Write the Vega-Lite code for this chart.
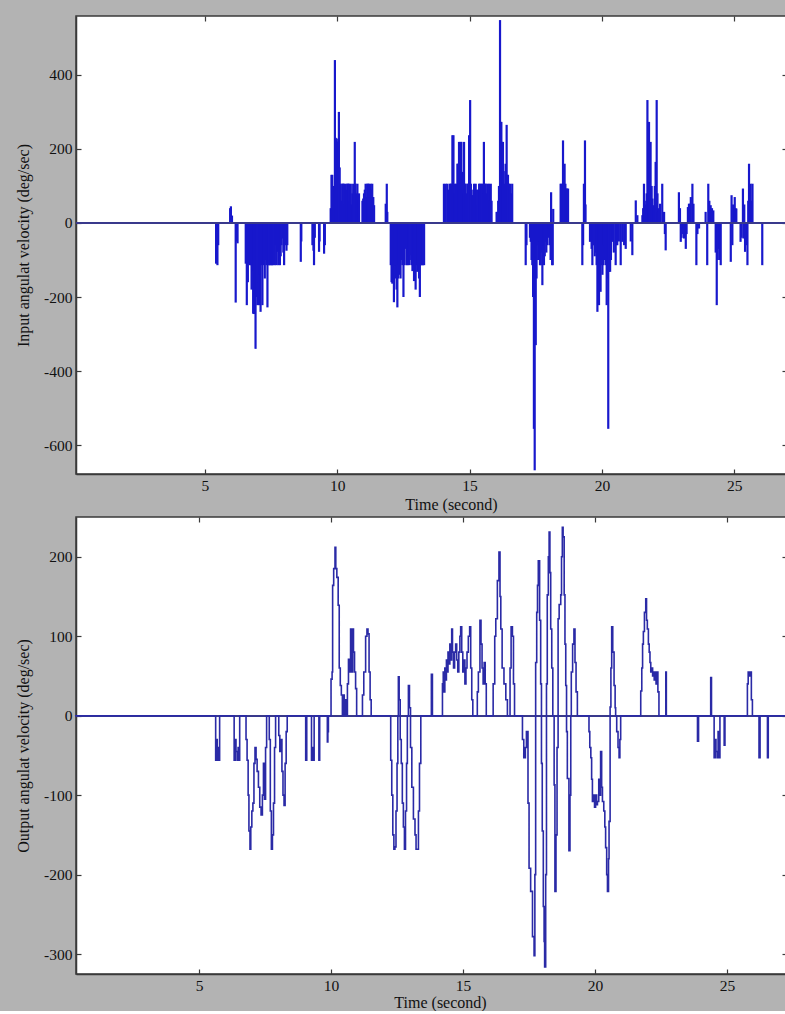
{
  "$schema": "https://vega.github.io/schema/vega-lite/v6.json",
  "background": "#b3b3b3",
  "padding": {"left": 14, "top": 14, "right": 0, "bottom": 0},
  "spacing": 2,
  "config": {
    "font": "Liberation Serif",
    "view": {"stroke": "#3a3a3a", "strokeWidth": 1.5, "fill": "white"},
    "axis": {
      "grid": false,
      "domainColor": "#3a3a3a",
      "domainWidth": 1.5,
      "tickColor": "#3a3a3a",
      "tickSize": -5,
      "tickWidth": 1.2,
      "labelFont": "Liberation Serif",
      "labelFontSize": 15.5,
      "labelColor": "#111111",
      "labelPadding": 9,
      "labelExpr": "datum.value < 0 ? '-' + abs(datum.value) : '' + datum.value",
      "titleFont": "Liberation Serif",
      "titleFontSize": 16,
      "titleFontWeight": "normal",
      "titleColor": "#111111",
      "titlePadding": 12
    }
  },
  "datasets": {
    "input": [
      {"t":5.42,"v":-110},{"t":5.47,"v":-114},{"t":5.50,"v":-60},
      {"t":5.95,"v":40},{"t":5.98,"v":45},{"t":6.02,"v":20},
      {"t":6.16,"v":-215},{"t":6.20,"v":-50},{"t":6.23,"v":-55},
      {"t":6.54,"v":-110},{"t":6.58,"v":-222},{"t":6.62,"v":-160},{"t":6.66,"v":-110},{"t":6.70,"v":-114},{"t":6.73,"v":-114},{"t":6.76,"v":-180},{"t":6.79,"v":-130},{"t":6.82,"v":-245},{"t":6.85,"v":-246},{"t":6.88,"v":-200},{"t":6.91,"v":-340},{"t":6.94,"v":-200},{"t":6.98,"v":-222},{"t":7.01,"v":-160},{"t":7.04,"v":-222},{"t":7.07,"v":-140},{"t":7.10,"v":-240},{"t":7.13,"v":-114},{"t":7.17,"v":-222},{"t":7.20,"v":-110},{"t":7.23,"v":-114},{"t":7.26,"v":-150},{"t":7.29,"v":-100},{"t":7.32,"v":-114},{"t":7.36,"v":-228},{"t":7.39,"v":-114},{"t":7.42,"v":-114},{"t":7.46,"v":-114},{"t":7.48,"v":-114},{"t":7.52,"v":-114},{"t":7.54,"v":-114},{"t":7.58,"v":-114},{"t":7.61,"v":-110},{"t":7.64,"v":-114},{"t":7.67,"v":-60},{"t":7.70,"v":-114},{"t":7.73,"v":-78},{"t":7.77,"v":-114},{"t":7.80,"v":-80},{"t":7.83,"v":-114},{"t":7.86,"v":-90},{"t":7.89,"v":-60},{"t":7.92,"v":-42},{"t":7.96,"v":-80},{"t":7.99,"v":-114},{"t":8.02,"v":-60},{"t":8.05,"v":-55},{"t":8.08,"v":-75},{"t":8.11,"v":-60},
      {"t":8.62,"v":-105},{"t":8.64,"v":-50},
      {"t":9.06,"v":-60},{"t":9.10,"v":-75},{"t":9.12,"v":-114},{"t":9.15,"v":-40},
      {"t":9.31,"v":-78},{"t":9.33,"v":-50},
      {"t":9.50,"v":-83},{"t":9.53,"v":-60},
      {"t":9.75,"v":40},{"t":9.78,"v":130},{"t":9.81,"v":130},{"t":9.85,"v":60},{"t":9.88,"v":100},{"t":9.91,"v":440},{"t":9.94,"v":230},{"t":9.98,"v":228},{"t":10.01,"v":220},{"t":10.04,"v":110},{"t":10.06,"v":300},{"t":10.09,"v":150},{"t":10.13,"v":106},{"t":10.16,"v":60},{"t":10.19,"v":106},{"t":10.22,"v":106},{"t":10.25,"v":106},{"t":10.28,"v":50},{"t":10.32,"v":106},{"t":10.35,"v":90},{"t":10.38,"v":106},{"t":10.41,"v":106},{"t":10.44,"v":106},{"t":10.48,"v":60},{"t":10.51,"v":106},{"t":10.54,"v":50},{"t":10.57,"v":80},{"t":10.60,"v":106},{"t":10.63,"v":90},{"t":10.66,"v":219},{"t":10.69,"v":106},{"t":10.72,"v":80},{"t":10.76,"v":106},{"t":10.79,"v":60},{"t":10.82,"v":80},
      {"t":10.95,"v":60},{"t":10.98,"v":66},{"t":11.01,"v":80},{"t":11.04,"v":90},{"t":11.07,"v":106},{"t":11.10,"v":70},{"t":11.13,"v":106},{"t":11.16,"v":106},{"t":11.20,"v":106},{"t":11.23,"v":70},{"t":11.26,"v":106},{"t":11.29,"v":90},{"t":11.32,"v":106},{"t":11.36,"v":70},{"t":11.39,"v":48},
      {"t":11.83,"v":52},{"t":11.87,"v":106},{"t":11.89,"v":30},
      {"t":12.02,"v":-114},{"t":12.05,"v":-160},{"t":12.08,"v":-164},{"t":12.11,"v":-120},{"t":12.14,"v":-214},{"t":12.18,"v":-150},{"t":12.21,"v":-114},{"t":12.24,"v":-180},{"t":12.27,"v":-228},{"t":12.30,"v":-150},{"t":12.33,"v":-114},{"t":12.36,"v":-140},{"t":12.39,"v":-150},{"t":12.42,"v":-100},{"t":12.46,"v":-114},{"t":12.50,"v":-200},{"t":12.54,"v":-114},{"t":12.58,"v":-70},{"t":12.62,"v":-114},{"t":12.65,"v":-114},{"t":12.68,"v":-90},{"t":12.71,"v":-114},{"t":12.74,"v":-100},{"t":12.77,"v":-87},{"t":12.80,"v":-114},{"t":12.84,"v":-130},{"t":12.87,"v":-114},{"t":12.90,"v":-157},{"t":12.93,"v":-114},{"t":12.96,"v":-180},{"t":12.99,"v":-114},{"t":13.02,"v":-132},{"t":13.05,"v":-114},{"t":13.09,"v":-150},{"t":13.12,"v":-200},{"t":13.15,"v":-114},{"t":13.18,"v":-114},{"t":13.21,"v":-114},{"t":13.24,"v":-114},{"t":13.28,"v":-114},
      {"t":14.03,"v":106},{"t":14.10,"v":106},{"t":14.16,"v":106},{"t":14.20,"v":90},{"t":14.25,"v":106},{"t":14.29,"v":106},{"t":14.32,"v":106},{"t":14.35,"v":237},{"t":14.39,"v":237},{"t":14.42,"v":80},{"t":14.45,"v":106},{"t":14.47,"v":80},{"t":14.50,"v":106},{"t":14.54,"v":160},{"t":14.56,"v":160},{"t":14.58,"v":110},{"t":14.60,"v":219},{"t":14.63,"v":106},{"t":14.66,"v":219},{"t":14.69,"v":219},{"t":14.71,"v":106},{"t":14.73,"v":138},{"t":14.76,"v":80},{"t":14.79,"v":219},{"t":14.82,"v":106},{"t":14.85,"v":106},{"t":14.88,"v":80},{"t":14.92,"v":106},{"t":14.95,"v":106},{"t":14.98,"v":237},{"t":15.02,"v":332},{"t":15.05,"v":106},{"t":15.08,"v":75},{"t":15.10,"v":75},{"t":15.14,"v":90},{"t":15.17,"v":106},{"t":15.20,"v":80},{"t":15.23,"v":106},{"t":15.26,"v":90},{"t":15.29,"v":48},{"t":15.32,"v":90},{"t":15.36,"v":106},{"t":15.39,"v":106},{"t":15.42,"v":90},{"t":15.45,"v":106},{"t":15.48,"v":106},{"t":15.51,"v":80},{"t":15.54,"v":219},{"t":15.58,"v":106},{"t":15.61,"v":106},{"t":15.64,"v":80},{"t":15.67,"v":106},{"t":15.70,"v":90},{"t":15.73,"v":106},{"t":15.76,"v":60},{"t":15.80,"v":106},{"t":15.83,"v":60},
      {"t":16.02,"v":30},{"t":16.05,"v":30},{"t":16.08,"v":60},{"t":16.11,"v":100},{"t":16.15,"v":548},{"t":16.18,"v":273},{"t":16.20,"v":273},{"t":16.23,"v":219},{"t":16.26,"v":219},{"t":16.29,"v":140},{"t":16.33,"v":106},{"t":16.36,"v":160},{"t":16.40,"v":265},{"t":16.43,"v":130},{"t":16.45,"v":130},{"t":16.48,"v":106},{"t":16.53,"v":106},{"t":16.57,"v":80},{"t":16.61,"v":106},
      {"t":17.12,"v":-114},{"t":17.15,"v":-60},{"t":17.28,"v":-40},{"t":17.31,"v":-51},{"t":17.34,"v":-100},{"t":17.37,"v":-114},{"t":17.40,"v":-200},{"t":17.43,"v":-556},{"t":17.46,"v":-668},{"t":17.50,"v":-330},{"t":17.53,"v":-150},{"t":17.56,"v":-60},{"t":17.59,"v":-100},{"t":17.62,"v":-50},{"t":17.66,"v":-114},{"t":17.69,"v":-114},{"t":17.72,"v":-80},{"t":17.75,"v":-168},{"t":17.78,"v":-60},{"t":17.81,"v":-114},{"t":17.84,"v":-90},{"t":17.87,"v":-51},{"t":17.90,"v":-80},{"t":17.94,"v":-60},{"t":17.97,"v":-40},{"t":18.00,"v":-15},{"t":18.03,"v":-60},{"t":18.06,"v":-100},{"t":18.08,"v":83},{"t":18.12,"v":-114},{"t":18.14,"v":-114},{"t":18.16,"v":38},
      {"t":18.44,"v":106},{"t":18.47,"v":106},{"t":18.50,"v":80},{"t":18.53,"v":223},{"t":18.56,"v":140},{"t":18.59,"v":160},{"t":18.62,"v":106},{"t":18.65,"v":93},{"t":18.67,"v":93},{"t":18.70,"v":60},{"t":18.72,"v":93},
      {"t":19.26,"v":-114},{"t":19.29,"v":-60},{"t":19.32,"v":106},{"t":19.36,"v":223},{"t":19.38,"v":50},
      {"t":19.55,"v":-51},{"t":19.58,"v":-40},{"t":19.61,"v":-70},{"t":19.64,"v":-114},{"t":19.67,"v":-60},{"t":19.70,"v":-60},{"t":19.73,"v":-90},{"t":19.76,"v":-80},{"t":19.80,"v":-114},{"t":19.83,"v":-240},{"t":19.86,"v":-200},{"t":19.89,"v":-222},{"t":19.92,"v":-160},{"t":19.95,"v":-186},{"t":19.98,"v":-114},{"t":20.02,"v":-140},{"t":20.05,"v":-114},{"t":20.08,"v":-60},{"t":20.11,"v":-100},{"t":20.14,"v":-114},{"t":20.18,"v":-222},{"t":20.21,"v":-150},{"t":20.24,"v":-556},{"t":20.27,"v":-132},{"t":20.31,"v":-132},{"t":20.34,"v":-100},{"t":20.39,"v":-51},{"t":20.45,"v":-80},{"t":20.52,"v":-114},{"t":20.55,"v":-60},{"t":20.58,"v":-60},{"t":20.64,"v":-50},{"t":20.71,"v":-114},{"t":20.77,"v":-51},{"t":20.84,"v":-60},{"t":20.90,"v":-70},{"t":21.09,"v":-50},{"t":21.15,"v":-87},
      {"t":21.28,"v":61},{"t":21.34,"v":21},{"t":21.53,"v":21},{"t":21.56,"v":40},{"t":21.59,"v":106},{"t":21.62,"v":60},{"t":21.65,"v":50},{"t":21.69,"v":80},{"t":21.72,"v":332},{"t":21.75,"v":200},{"t":21.78,"v":273},{"t":21.81,"v":150},{"t":21.84,"v":219},{"t":21.88,"v":100},{"t":21.91,"v":66},{"t":21.94,"v":40},{"t":21.97,"v":48},{"t":22.00,"v":100},{"t":22.03,"v":165},{"t":22.07,"v":332},{"t":22.10,"v":80},{"t":22.12,"v":30},{"t":22.16,"v":40},{"t":22.20,"v":52},{"t":22.28,"v":106},{"t":22.35,"v":30},
      {"t":22.38,"v":-30},{"t":22.41,"v":-74},
      {"t":22.91,"v":83},{"t":22.95,"v":40},
      {"t":22.98,"v":-51},{"t":23.01,"v":-40},{"t":23.04,"v":-15},{"t":23.07,"v":-30},{"t":23.10,"v":-42},{"t":23.17,"v":-70},{"t":23.20,"v":-30},
      {"t":23.25,"v":43},{"t":23.29,"v":52},{"t":23.32,"v":52},{"t":23.36,"v":70},{"t":23.42,"v":106},{"t":23.46,"v":52},
      {"t":23.57,"v":-114},{"t":23.61,"v":-30},{"t":23.67,"v":-15},
      {"t":23.92,"v":30},{"t":23.98,"v":-114},{"t":24.02,"v":106},{"t":24.06,"v":60},{"t":24.11,"v":48},{"t":24.16,"v":40},{"t":24.21,"v":34},
      {"t":24.30,"v":-80},{"t":24.34,"v":-222},{"t":24.38,"v":-100},{"t":24.43,"v":-70},{"t":24.46,"v":-100},{"t":24.49,"v":-114},
      {"t":24.87,"v":-105},{"t":24.90,"v":75},{"t":24.93,"v":-60},{"t":24.96,"v":50},{"t":25.02,"v":70},{"t":25.05,"v":40},{"t":25.08,"v":39},
      {"t":25.24,"v":-51},{"t":25.28,"v":-40},{"t":25.33,"v":93},{"t":25.35,"v":-42},{"t":25.38,"v":50},{"t":25.41,"v":-78},{"t":25.45,"v":-60},{"t":25.50,"v":-114},{"t":25.53,"v":60},{"t":25.56,"v":160},{"t":25.59,"v":80},{"t":25.62,"v":106},{"t":25.66,"v":60},{"t":25.69,"v":106},
      {"t":26.06,"v":-114}
    ],
    "output": [
      {"t":0.3,"v":0},{"t":5.60,"v":0},{"t":5.63,"v":-56},{"t":5.66,"v":-30},{"t":5.69,"v":-56},{"t":5.72,"v":-40},{"t":5.75,"v":-56},{"t":5.78,"v":0},
      {"t":6.30,"v":0},{"t":6.33,"v":-56},{"t":6.37,"v":-30},{"t":6.40,"v":-45},{"t":6.44,"v":-56},{"t":6.48,"v":-40},{"t":6.51,"v":-56},{"t":6.54,"v":0},
      {"t":6.75,"v":0},{"t":6.78,"v":-30},{"t":6.82,"v":-56},{"t":6.86,"v":-100},{"t":6.89,"v":-145},{"t":6.93,"v":-168},{"t":6.96,"v":-140},{"t":7.00,"v":-120},{"t":7.04,"v":-110},{"t":7.08,"v":-60},{"t":7.12,"v":-40},{"t":7.16,"v":-55},{"t":7.20,"v":-70},{"t":7.25,"v":-90},{"t":7.30,"v":-115},{"t":7.35,"v":-125},{"t":7.40,"v":-100},{"t":7.44,"v":-60},{"t":7.48,"v":-105},{"t":7.52,"v":-40},{"t":7.56,"v":0},
      {"t":7.62,"v":0},{"t":7.66,"v":-30},{"t":7.70,"v":-120},{"t":7.74,"v":-168},{"t":7.78,"v":-150},{"t":7.82,"v":-110},{"t":7.86,"v":-40},{"t":7.90,"v":0},
      {"t":7.98,"v":0},{"t":8.02,"v":-25},{"t":8.06,"v":-45},{"t":8.10,"v":-30},{"t":8.14,"v":-70},{"t":8.18,"v":-100},{"t":8.22,"v":-113},{"t":8.26,"v":-60},{"t":8.30,"v":-20},{"t":8.34,"v":0},
      {"t":9.02,"v":0},{"t":9.04,"v":-56},{"t":9.08,"v":0},{"t":9.24,"v":0},{"t":9.26,"v":-56},{"t":9.30,"v":-40},{"t":9.33,"v":-56},{"t":9.36,"v":0},{"t":9.52,"v":0},{"t":9.54,"v":-56},{"t":9.57,"v":0},{"t":9.84,"v":0},{"t":9.86,"v":-33},{"t":9.88,"v":-20},{"t":9.90,"v":0},
      {"t":9.98,"v":0},{"t":10.00,"v":46},{"t":10.04,"v":55},{"t":10.06,"v":164},{"t":10.10,"v":185},{"t":10.15,"v":212},{"t":10.18,"v":185},{"t":10.22,"v":174},{"t":10.27,"v":139},{"t":10.31,"v":60},{"t":10.35,"v":38},{"t":10.39,"v":26},{"t":10.43,"v":0},{"t":10.47,"v":26},{"t":10.50,"v":0},{"t":10.54,"v":20},{"t":10.58,"v":0},{"t":10.62,"v":40},{"t":10.66,"v":71},{"t":10.70,"v":55},{"t":10.74,"v":109},{"t":10.78,"v":55},{"t":10.82,"v":109},{"t":10.85,"v":80},{"t":10.89,"v":55},{"t":10.93,"v":34},{"t":10.97,"v":0},
      {"t":11.15,"v":0},{"t":11.19,"v":26},{"t":11.24,"v":55},{"t":11.31,"v":100},{"t":11.36,"v":109},{"t":11.40,"v":103},{"t":11.44,"v":55},{"t":11.48,"v":20},{"t":11.52,"v":0},
      {"t":12.22,"v":0},{"t":12.26,"v":-56},{"t":12.30,"v":-100},{"t":12.34,"v":-150},{"t":12.38,"v":-168},{"t":12.42,"v":-165},{"t":12.46,"v":-120},{"t":12.50,"v":-60},{"t":12.53,"v":0},{"t":12.55,"v":49},{"t":12.58,"v":20},{"t":12.62,"v":-30},{"t":12.66,"v":-60},{"t":12.70,"v":-110},{"t":12.74,"v":-140},{"t":12.78,"v":-168},{"t":12.82,"v":-120},{"t":12.86,"v":-60},{"t":12.89,"v":0},{"t":12.93,"v":38},{"t":12.97,"v":10},{"t":13.01,"v":-40},{"t":13.06,"v":-90},{"t":13.12,"v":-130},{"t":13.18,"v":-150},{"t":13.22,"v":-168},{"t":13.27,"v":-168},{"t":13.31,"v":-120},{"t":13.35,"v":-60},{"t":13.40,"v":0},
      {"t":13.78,"v":0},{"t":13.80,"v":52},{"t":13.84,"v":0},
      {"t":14.20,"v":0},{"t":14.22,"v":40},{"t":14.25,"v":55},{"t":14.28,"v":30},{"t":14.31,"v":60},{"t":14.34,"v":45},{"t":14.37,"v":70},{"t":14.40,"v":55},{"t":14.43,"v":80},{"t":14.46,"v":65},{"t":14.50,"v":90},{"t":14.54,"v":70},{"t":14.57,"v":109},{"t":14.60,"v":80},{"t":14.64,"v":60},{"t":14.68,"v":80},{"t":14.72,"v":90},{"t":14.76,"v":70},{"t":14.80,"v":55},{"t":14.84,"v":80},{"t":14.88,"v":100},{"t":14.91,"v":112},{"t":14.95,"v":80},{"t":14.99,"v":55},{"t":15.03,"v":70},{"t":15.07,"v":40},{"t":15.11,"v":60},{"t":15.15,"v":80},{"t":15.20,"v":100},{"t":15.25,"v":112},{"t":15.29,"v":60},{"t":15.33,"v":20},{"t":15.37,"v":0},
      {"t":15.50,"v":0},{"t":15.54,"v":30},{"t":15.58,"v":55},{"t":15.64,"v":120},{"t":15.68,"v":90},{"t":15.72,"v":60},{"t":15.76,"v":40},{"t":15.80,"v":67},{"t":15.84,"v":40},{"t":15.88,"v":0},
      {"t":16.10,"v":0},{"t":16.14,"v":40},{"t":16.20,"v":100},{"t":16.24,"v":122},{"t":16.30,"v":170},{"t":16.36,"v":206},{"t":16.40,"v":150},{"t":16.43,"v":109},{"t":16.48,"v":60},{"t":16.55,"v":40},{"t":16.62,"v":20},{"t":16.68,"v":0},
      {"t":16.76,"v":0},{"t":16.78,"v":60},{"t":16.82,"v":112},{"t":16.87,"v":100},{"t":16.91,"v":40},{"t":16.95,"v":0},
      {"t":17.22,"v":0},{"t":17.25,"v":-30},{"t":17.30,"v":-53},{"t":17.36,"v":-40},{"t":17.40,"v":-20},{"t":17.46,"v":-110},{"t":17.50,"v":-192},{"t":17.56,"v":-221},{"t":17.63,"v":-278},{"t":17.69,"v":-302},{"t":17.72,"v":-200},{"t":17.75,"v":67},{"t":17.79,"v":130},{"t":17.82,"v":164},{"t":17.85,"v":195},{"t":17.90,"v":120},{"t":17.94,"v":40},{"t":17.97,"v":-60},{"t":18.00,"v":-145},{"t":18.04,"v":-240},{"t":18.07,"v":-284},{"t":18.09,"v":-316},{"t":18.13,"v":-200},{"t":18.16,"v":40},{"t":18.19,"v":152},{"t":18.23,"v":200},{"t":18.26,"v":231},{"t":18.29,"v":180},{"t":18.32,"v":109},{"t":18.36,"v":60},{"t":18.40,"v":0},{"t":18.45,"v":-87},{"t":18.48,"v":-221},{"t":18.52,"v":-150},{"t":18.56,"v":-40},{"t":18.60,"v":122},{"t":18.64,"v":140},{"t":18.70,"v":152},{"t":18.73,"v":200},{"t":18.76,"v":237},{"t":18.79,"v":225},{"t":18.83,"v":152},{"t":18.86,"v":90},{"t":18.89,"v":38},{"t":18.92,"v":-20},{"t":18.95,"v":-79},{"t":19.01,"v":-170},{"t":19.05,"v":-100},{"t":19.08,"v":0},{"t":19.10,"v":55},{"t":19.15,"v":90},{"t":19.20,"v":109},{"t":19.24,"v":67},{"t":19.28,"v":30},{"t":19.33,"v":0},
      {"t":19.74,"v":0},{"t":19.77,"v":-20},{"t":19.80,"v":-40},{"t":19.84,"v":-53},{"t":19.87,"v":-80},{"t":19.90,"v":-108},{"t":19.94,"v":-100},{"t":19.98,"v":-115},{"t":20.02,"v":-100},{"t":20.06,"v":-112},{"t":20.09,"v":-108},{"t":20.14,"v":-80},{"t":20.18,"v":-100},{"t":20.21,"v":-45},{"t":20.25,"v":-90},{"t":20.28,"v":-108},{"t":20.33,"v":-120},{"t":20.37,"v":-140},{"t":20.40,"v":-166},{"t":20.44,"v":-200},{"t":20.47,"v":-221},{"t":20.51,"v":-180},{"t":20.53,"v":-133},{"t":20.57,"v":11},{"t":20.60,"v":60},{"t":20.63,"v":112},{"t":20.67,"v":80},{"t":20.72,"v":38},{"t":20.76,"v":10},{"t":20.78,"v":0},{"t":20.82,"v":-20},{"t":20.87,"v":-40},{"t":20.91,"v":-53},{"t":20.94,"v":-30},{"t":20.97,"v":0},
      {"t":21.70,"v":0},{"t":21.73,"v":31},{"t":21.77,"v":60},{"t":21.80,"v":90},{"t":21.83,"v":106},{"t":21.87,"v":130},{"t":21.92,"v":147},{"t":21.95,"v":120},{"t":21.98,"v":109},{"t":22.02,"v":90},{"t":22.05,"v":80},{"t":22.08,"v":67},{"t":22.11,"v":55},{"t":22.15,"v":60},{"t":22.18,"v":50},{"t":22.21,"v":55},{"t":22.24,"v":45},{"t":22.28,"v":55},{"t":22.31,"v":40},{"t":22.35,"v":55},{"t":22.38,"v":30},{"t":22.42,"v":0},
      {"t":22.66,"v":0},{"t":22.68,"v":55},{"t":22.70,"v":0},
      {"t":23.86,"v":0},{"t":23.88,"v":-32},{"t":23.92,"v":0},
      {"t":24.36,"v":0},{"t":24.38,"v":48},{"t":24.41,"v":0},
      {"t":24.48,"v":0},{"t":24.51,"v":-53},{"t":24.55,"v":-30},{"t":24.58,"v":-45},{"t":24.62,"v":-53},{"t":24.66,"v":-20},{"t":24.70,"v":-53},{"t":24.73,"v":0},
      {"t":24.86,"v":0},{"t":24.89,"v":-37},{"t":24.92,"v":0},
      {"t":25.74,"v":0},{"t":25.77,"v":40},{"t":25.80,"v":55},{"t":25.84,"v":50},{"t":25.87,"v":55},{"t":25.92,"v":20},{"t":25.96,"v":0},
      {"t":26.19,"v":0},{"t":26.21,"v":-53},{"t":26.25,"v":0},
      {"t":26.51,"v":0},{"t":26.53,"v":-53},{"t":26.56,"v":0},
      {"t":27.27,"v":0}
    ]
  },
  "vconcat": [
    {
      "width": 711,
      "height": 458,
      "data": {"name": "input"},
      "resolve": {"axis": {"x": "independent", "y": "independent"}},
      "layer": [
        {
          "mark": {"type": "rule", "color": "#1818cc", "strokeWidth": 2.2},
          "encoding": {
            "x": {"field": "t", "type": "quantitative",
                  "scale": {"domain": [0.125, 26.995], "nice": false, "zero": false},
                  "axis": {"orient": "bottom", "values": [5, 10, 15, 20, 25], "title": "Time (second)",
                           "titleX": 375, "titleY": 30, "titleBaseline": "middle", "titleAnchor": null}},
            "y": {"field": "v", "type": "quantitative",
                  "scale": {"domain": [-678, 559], "nice": false, "zero": false},
                  "axis": {"orient": "left", "values": [-600, -400, -200, 0, 200, 400], "title": "Input angulat velocity (deg/sec)"}},
            "y2": {"datum": 0}
          }
        },
        {
          "mark": {"type": "rule", "color": "#3a3a8c", "strokeWidth": 1.3},
          "encoding": {
            "y": {"datum": 0, "type": "quantitative",
                  "axis": {"orient": "right", "values": [-600, -400, -200, 0, 200, 400], "labels": false, "title": null, "domain": false}}
          }
        },
        {
          "mark": {"type": "rule", "opacity": 0},
          "encoding": {
            "x": {"field": "t", "type": "quantitative",
                  "axis": {"orient": "top", "values": [5, 10, 15, 20, 25], "labels": false, "title": null, "domain": false}}
          }
        }
      ]
    },
    {
      "width": 711,
      "height": 457,
      "data": {"name": "output"},
      "resolve": {"axis": {"x": "independent", "y": "independent"}},
      "layer": [
        {
          "mark": {"type": "rule", "color": "#3a3a8c", "strokeWidth": 1.3},
          "encoding": {
            "y": {"datum": 0, "type": "quantitative",
                  "axis": {"orient": "right", "values": [-300, -200, -100, 0, 100, 200], "labels": false, "title": null, "domain": false}}
          }
        },
        {
          "mark": {"type": "line", "interpolate": "step-after", "color": "#2a2aa6", "strokeWidth": 1.6},
          "encoding": {
            "x": {"field": "t", "type": "quantitative",
                  "scale": {"domain": [0.34, 27.27], "nice": false, "zero": false},
                  "axis": {"orient": "bottom", "values": [5, 10, 15, 20, 25], "title": "Time (second)",
                           "titleX": 364, "titleY": 28, "titleBaseline": "middle", "titleAnchor": null}},
            "y": {"field": "v", "type": "quantitative",
                  "scale": {"domain": [-325, 250], "nice": false, "zero": false},
                  "axis": {"orient": "left", "values": [-300, -200, -100, 0, 100, 200], "title": "Output angulat velocity (deg/sec)"}}
          }
        },
        {
          "mark": {"type": "rule", "opacity": 0},
          "encoding": {
            "x": {"field": "t", "type": "quantitative",
                  "axis": {"orient": "top", "values": [5, 10, 15, 20, 25], "labels": false, "title": null, "domain": false}}
          }
        }
      ]
    }
  ]
}
